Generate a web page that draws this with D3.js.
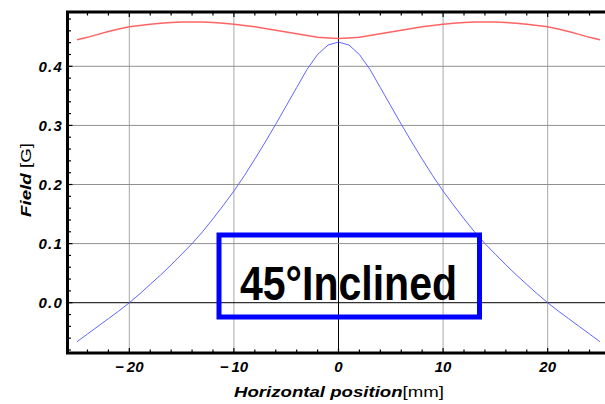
<!DOCTYPE html>
<html>
<head>
<meta charset="utf-8">
<script src="https://cdn.jsdelivr.net/npm/d3@7/dist/d3.min.js"></script>
<style>
  html, body { margin: 0; padding: 0; background: #fff; }
  svg { display: block; }
</style>
</head>
<body>
<svg width="605" height="404"></svg>
<script>
const width = 605, height = 404;
const svg = d3.select("svg");

// positions en mm
const positions = [-25, -24, -23, -22, -21, -20, -19, -18, -17, -16, -15, -14, -13, -12, -11, -10,
  -9, -8, -7, -6, -5, -4, -3, -2, -1, 0, 1, 2, 3, 4, 5, 6, 7, 8, 9,
  10, 11, 12, 13, 14, 15, 16, 17, 18, 19, 20, 21, 22, 23, 24, 25];

// courbe rouge
const redField = [0.445, 0.449, 0.454, 0.459, 0.463, 0.467, 0.469, 0.471, 0.473, 0.474, 0.475, 0.475, 0.475, 0.474, 0.473, 0.471,
  0.469, 0.467, 0.464, 0.461, 0.458, 0.455, 0.452, 0.449, 0.448, 0.447, 0.448, 0.449, 0.452, 0.455, 0.458, 0.461, 0.464, 0.467, 0.469,
  0.471, 0.473, 0.474, 0.475, 0.475, 0.475, 0.474, 0.473, 0.471, 0.469, 0.467, 0.463, 0.459, 0.454, 0.449, 0.445];

// courbe bleue
const blueField = [-0.066, -0.053, -0.040, -0.027, -0.014, 0.000, 0.015, 0.031, 0.047, 0.064, 0.082, 0.100, 0.120, 0.142, 0.165, 0.189,
  0.215, 0.243, 0.272, 0.302, 0.333, 0.364, 0.395, 0.420, 0.436, 0.441, 0.436, 0.420, 0.395, 0.364, 0.333, 0.302, 0.272, 0.243, 0.215,
  0.189, 0.165, 0.142, 0.120, 0.100, 0.082, 0.064, 0.047, 0.031, 0.015, 0.000, -0.014, -0.027, -0.040, -0.053, -0.066];

const xTicks = [-20, -10, 0, 10, 20];
const xTickLabels = ["\u2212\u200920", "\u2212\u200910", "0", "10", "20"];
const yTicks = [0.0, 0.1, 0.2, 0.3, 0.4];
const yTickLabels = ["0.0", "0.1", "0.2", "0.3", "0.4"];
const xMinor = d3.range(-24, 26, 2);
const yMinor = d3.range(-8, 50, 2).map(v => v / 100);

const pLeft = 67.5, pTop = 12, pBottom = 353, pRight = 609.5;

const x = d3.scaleLinear().domain([-25.91, 25.91]).range([pLeft, pRight]);
const y = d3.scaleLinear().domain([-0.0851, 0.4919]).range([pBottom, pTop]);

svg.append("rect").attr("width", width).attr("height", height).attr("fill", "#fff");

// Grille
svg.append("g")
  .selectAll("line")
  .data(xTicks)
  .enter()
  .append("line")
  .attr("x1", d => x(d)).attr("x2", d => x(d))
  .attr("y1", pTop).attr("y2", pBottom)
  .attr("stroke", d => d === 0 ? "#000" : "#a8a8a8")
  .attr("stroke-width", 1);

svg.append("g")
  .selectAll("line")
  .data(yTicks)
  .enter()
  .append("line")
  .attr("x1", pLeft).attr("x2", pRight)
  .attr("y1", d => y(d)).attr("y2", d => y(d))
  .attr("stroke", d => d === 0 ? "#000" : "#909090")
  .attr("stroke-width", 1);

// Courbes
const line = (vals) => d3.line()
  .x((d, i) => x(positions[i]))
  .y(d => y(d))(vals);

svg.append("path")
  .attr("d", line(redField))
  .attr("fill", "none")
  .attr("stroke", "#ff6464")
  .attr("stroke-width", 1.5);

svg.append("path")
  .attr("d", line(blueField))
  .attr("fill", "none")
  .attr("stroke", "#6464ff")
  .attr("stroke-width", 1);

// Cadre + graduations
svg.append("rect")
  .attr("x", pLeft).attr("y", pTop)
  .attr("width", pRight - pLeft).attr("height", pBottom - pTop)
  .attr("fill", "none")
  .attr("stroke", "#000")
  .attr("stroke-width", 3);

const ticks = svg.append("g").attr("stroke", "#000").attr("stroke-width", 1.2);
xMinor.forEach(v => {
  const len = v % 10 === 0 ? 5 : 3.5;
  ticks.append("line").attr("x1", x(v)).attr("x2", x(v)).attr("y1", pBottom).attr("y2", pBottom - len);
  ticks.append("line").attr("x1", x(v)).attr("x2", x(v)).attr("y1", pTop).attr("y2", pTop + len);
});
yMinor.forEach(v => {
  const len = Math.round(v * 100) % 10 === 0 ? 5 : 3.5;
  ticks.append("line").attr("x1", pLeft).attr("x2", pLeft + len).attr("y1", y(v)).attr("y2", y(v));
});

// Étiquettes
const tickFont = "'Liberation Sans', Arial, sans-serif";
svg.append("g")
  .selectAll("text")
  .data(xTicks)
  .enter()
  .append("text")
  .attr("x", d => x(d))
  .attr("y", 372)
  .attr("text-anchor", "middle")
  .attr("font-family", tickFont)
  .attr("font-weight", "bold")
  .attr("font-style", "italic")
  .attr("font-size", 15)
  .text((d, i) => xTickLabels[i]);

svg.append("g")
  .selectAll("text")
  .data(yTicks)
  .enter()
  .append("text")
  .attr("x", 63)
  .attr("y", d => y(d) + 5.5)
  .attr("text-anchor", "end")
  .attr("font-family", tickFont)
  .attr("font-weight", "bold")
  .attr("font-style", "italic")
  .attr("font-size", 15)
  .attr("letter-spacing", 1.2)
  .text((d, i) => yTickLabels[i]);

const xTitle = svg.append("text")
  .attr("x", 234).attr("y", 397)
  .attr("font-family", "'Liberation Sans', Arial, sans-serif")
  .attr("font-size", 15)
  .attr("textLength", 210)
  .attr("lengthAdjust", "spacingAndGlyphs");
xTitle.append("tspan").attr("font-weight", "bold").attr("font-style", "italic").text("Horizontal position");
xTitle.append("tspan").text("[mm]");

const yTitle = svg.append("text")
  .attr("transform", "translate(31,217) rotate(-90)")
  .attr("font-family", "'Liberation Sans', Arial, sans-serif")
  .attr("font-size", 15)
  .attr("textLength", 74)
  .attr("lengthAdjust", "spacingAndGlyphs");
yTitle.append("tspan").attr("font-weight", "bold").attr("font-style", "italic").text("Field");
yTitle.append("tspan").text(" [G]");

// Encadré
svg.append("rect")
  .attr("x", 219).attr("y", 235)
  .attr("width", 260.5).attr("height", 82)
  .attr("fill", "none")
  .attr("stroke", "#0000ff")
  .attr("stroke-width", 5);

svg.append("text")
  .attr("x", 240).attr("y", 300)
  .attr("font-family", "'Liberation Sans Narrow', 'Arial Narrow', 'Liberation Sans', sans-serif")
  .attr("font-weight", "bold")
  .attr("font-size", 48)
  .attr("textLength", 217)
  .attr("lengthAdjust", "spacingAndGlyphs")
  .attr("fill", "#000")
  .text("45°Inclined");
</script>
</body>
</html>
